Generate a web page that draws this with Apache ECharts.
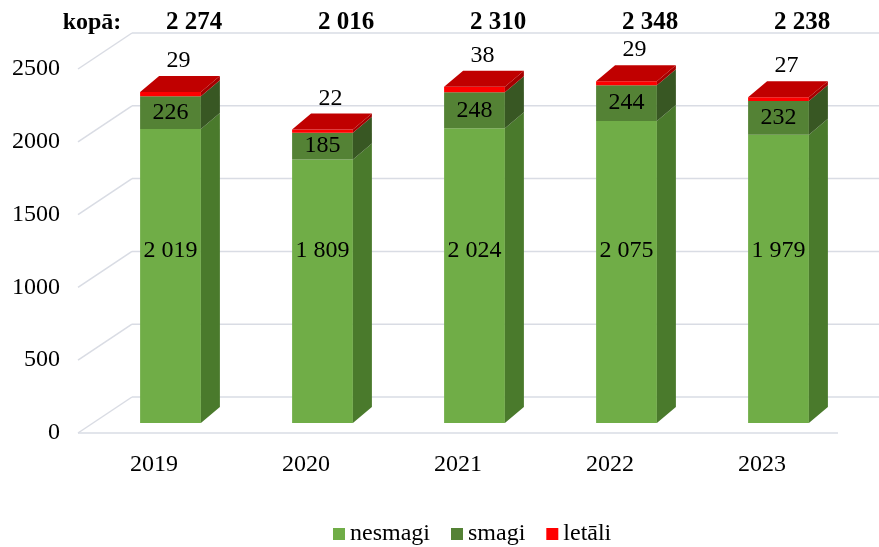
<!DOCTYPE html>
<html>
<head>
<meta charset="utf-8">
<script src="https://cdn.jsdelivr.net/npm/echarts@6/dist/echarts.min.js"></script>
<style>
  html, body { margin: 0; padding: 0; background: #fff; }
  #chart { width: 879px; height: 547px; }
</style>
</head>
<body>
<div id="chart"></div>
<script>
const years = ['2019', '2020', '2021', '2022', '2023']
const nesmagi = [2019, 1809, 2024, 2075, 1979]
const smagi = [226, 185, 248, 244, 232]
const letali = [29, 22, 38, 29, 27]
const yTicks = [0, 500, 1000, 1500, 2000, 2500]

// 3d look
const WALL_DX = 54, WALL_DY = -36   // back wall offset
const BAR_OX = 16.5, BAR_OY = -10   // bars sit mid depth
const DEP_DX = 19, DEP_DY = -16     // bar depth
const NES_LABEL_AT = 1180
const FONT = 'Liberation Serif'

const fmt = n => String(n).replace(/\B(?=(\d{3})+(?!\d))/g, ' ')

const base2 = nesmagi.map((v, i) => v + smagi[i])
const totals = base2.map((v, i) => v + letali[i])

function segment (name, values, bases, front, side, top, labelMode) {
  return {
    name: name,
    type: 'custom',
    itemStyle: { color: front },
    clip: false,
    data: values.map((v, i) => [i, bases[i], bases[i] + v, v]),
    renderItem: function (params, api) {
      const i = api.value(0)
      const band = api.size([1, 0])[0]
      const w = band * 0.4
      const p0 = api.coord([i, api.value(1)])
      const p1 = api.coord([i, api.value(2)])
      const cx = p0[0] + BAR_OX
      const yb = p0[1] + BAR_OY
      const yt = p1[1] + BAR_OY
      const xl = cx - w / 2
      const xr = cx + w / 2
      const children = [
        { type: 'rect', shape: { x: xl, y: yt, width: w, height: yb - yt }, style: { fill: front } },
        { type: 'polygon', shape: { points: [[xr, yb], [xr + DEP_DX, yb + DEP_DY], [xr + DEP_DX, yt + DEP_DY], [xr, yt]] }, style: { fill: side } }
      ]
      if (top) {
        children.push({ type: 'polygon', shape: { points: [[xl, yt], [xl + DEP_DX, yt + DEP_DY], [xr + DEP_DX, yt + DEP_DY], [xr, yt]] }, style: { fill: top } })
      }
      let lx = cx, ly
      if (labelMode === 'fixed') {
        ly = api.coord([i, NES_LABEL_AT])[1] + BAR_OY
      } else if (labelMode === 'middle') {
        ly = (yt + yb) / 2
      } else {
        lx = cx + 8
        ly = yt + DEP_DY - 15
      }
      children.push({
        type: 'text',
        z2: 10,
        style: { x: lx, y: ly, text: fmt(api.value(3)), fill: '#000', font: '24px "' + FONT + '"', align: 'center', verticalAlign: 'middle' }
      })
      return { type: 'group', children: children }
    }
  }
}

const chart = echarts.init(document.getElementById('chart'))

chart.setOption({
  animation: false,
  backgroundColor: '#fff',
  textStyle: { fontFamily: FONT },
  grid: { left: 78, right: 41, top: 69, bottom: 114 },
  legend: {
    data: ['nesmagi', 'smagi', 'letāli'],
    left: 333,
    top: 522,
    padding: 0,
    itemWidth: 12,
    itemHeight: 12,
    itemGap: 21,
    icon: 'rect',
    textStyle: { fontSize: 24, color: '#000', fontFamily: FONT }
  },
  xAxis: {
    type: 'category',
    data: years,
    axisLine: { show: false },
    axisTick: { show: false },
    axisLabel: { fontSize: 24, color: '#000', margin: 20, fontFamily: FONT }
  },
  yAxis: {
    type: 'value',
    min: 0,
    max: 2500,
    interval: 500,
    name: 'kopā:',
    nameLocation: 'end',
    nameGap: 34,
    nameTextStyle: { fontSize: 24, fontWeight: 'bold', color: '#000', fontFamily: FONT, padding: [0, 0, 0, 28] },
    axisLine: { show: false },
    axisTick: { show: false },
    splitLine: { show: false },
    axisLabel: { fontSize: 24, color: '#000', margin: 18, fontFamily: FONT, formatter: v => String(v) }
  },
  series: [
    {
      name: 'grid',
      type: 'custom',
      silent: true,
      clip: false,
      z: 0,
      data: yTicks.map(v => [0, v]),
      renderItem: function (params, api) {
        const cs = params.coordSys
        const y = api.coord([0, api.value(1)])[1]
        const x0 = cs.x
        const ls = { stroke: '#d9dce4', lineWidth: 1.5 }
        const children = [
          { type: 'line', shape: { x1: x0, y1: y, x2: x0 + WALL_DX, y2: y + WALL_DY }, style: ls },
          { type: 'line', shape: { x1: x0 + WALL_DX, y1: y + WALL_DY, x2: cs.x + cs.width + 41, y2: y + WALL_DY }, style: ls }
        ]
        if (api.value(1) === 0) {
          children.push({ type: 'line', shape: { x1: x0, y1: y, x2: cs.x + cs.width, y2: y }, style: ls })
        }
        return { type: 'group', children: children }
      }
    },
    segment('nesmagi', nesmagi, nesmagi.map(() => 0), '#70ad47', '#4a7a2c', null, 'fixed'),
    segment('smagi', smagi, nesmagi, '#548235', '#385723', null, 'middle'),
    segment('letāli', letali, base2, '#ff0000', '#a50000', '#c00000', 'above'),
    {
      name: 'kopā',
      type: 'custom',
      silent: true,
      clip: false,
      data: totals.map((t, i) => [i, t]),
      renderItem: function (params, api) {
        const x = api.coord([api.value(0), 0])[0] + 40
        return {
          type: 'text',
          style: {
            x: x,
            y: params.coordSys.y - 46,
            text: fmt(api.value(1)),
            fill: '#000',
            font: 'bold 25px "' + FONT + '"',
            align: 'center',
            verticalAlign: 'middle'
          }
        }
      }
    }
  ]
})
</script>
</body>
</html>
